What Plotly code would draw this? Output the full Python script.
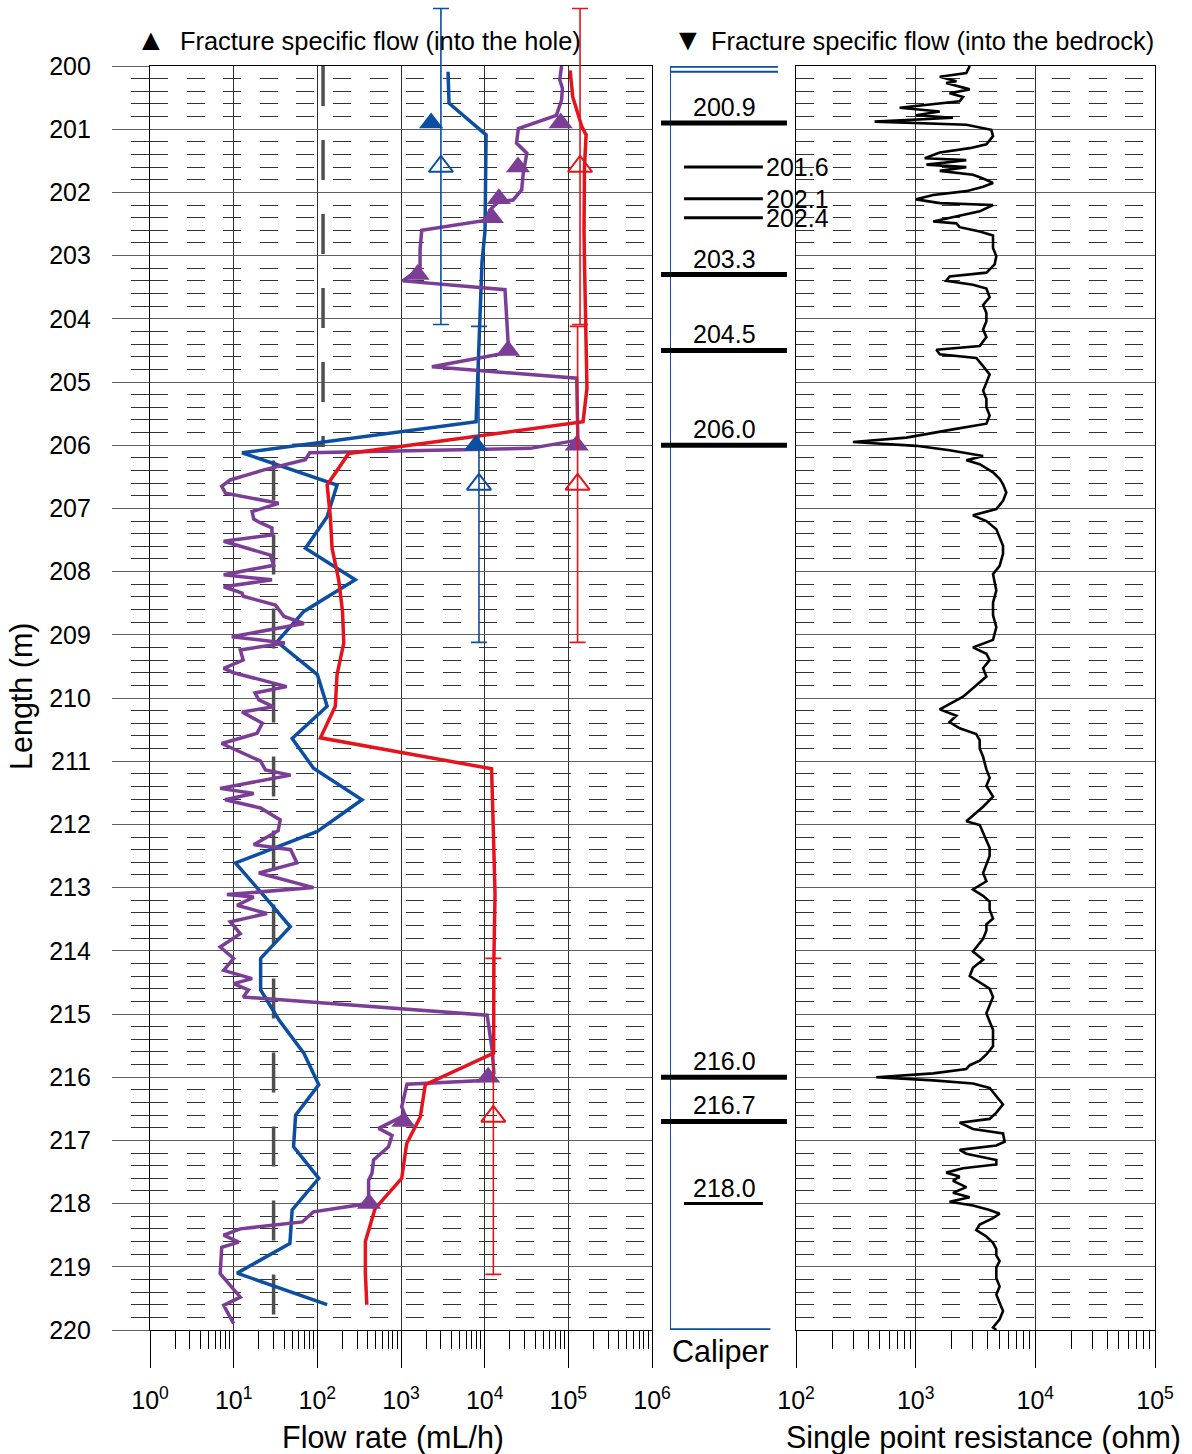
import plotly.graph_objects as go

# ---------------- data ----------------
# Blue flow log (mL/h) vs length (m)
blue_depth = [200.09, 200.59, 201.09, 201.59, 202.1, 202.6, 203.1, 203.6, 204.1, 204.6, 205.1, 205.63,
              206.12, 206.63, 207.13, 207.63, 208.13, 208.63, 209.11, 209.63, 210.13, 210.64, 211.11,
              211.61, 212.11, 212.61, 213.1, 213.62, 214.12, 214.62, 215.1, 215.62, 216.12, 216.6,
              217.1, 217.6, 218.1, 218.63, 219.1, 219.6]
blue_flow = [3650, 3750, 10400, 10300, 10200, 10100, 9300, 9000, 8600, 8300, 8100, 7900,
             12.6, 172, 131, 72, 284, 69, 33, 100, 131, 50, 90,
             342, 100, 10.5, 22, 47.5, 21, 21, 35, 69, 104, 55,
             52, 104, 50, 47, 11, 131]

# Red flow log
red_depth = [200.07, 200.49, 200.96, 201.09, 201.6, 202.12, 202.6, 203.1, 203.6, 204.1, 204.6, 205.1, 205.63,
             206.13, 206.63, 207.13, 207.63, 208.13, 208.63, 209.13, 209.63, 210.13, 210.63,
             211.12, 212.1, 213.1, 214.1, 215.1, 215.62, 216.12, 216.63, 217.05, 217.6, 218.08,
             218.6, 219.1, 219.6]
red_flow = [105000, 113000, 145000, 163000, 156000, 154000, 154000, 156000, 158000, 160000, 163000, 167000, 150000,
            237, 131, 143, 150, 180, 200, 207, 172, 164, 109,
            12100, 12700, 13300, 12900, 12800, 12800, 1950, 1700, 1170, 1020, 490,
            375, 375, 390]

# Purple flow log
purple_depth = [200.0, 200.22, 200.35, 200.54, 200.78, 200.99, 201.22, 201.38, 201.7, 201.96, 202.12, 202.15,
                202.28, 202.44, 202.6, 202.9, 203.2, 203.4, 203.54, 204.34, 204.53, 204.76, 204.94, 205.92,
                206.05, 206.12, 206.23, 206.39, 206.55, 206.65, 206.76, 206.92, 207.05, 207.17, 207.23,
                207.31, 207.42, 207.52, 207.74, 207.9, 208.05, 208.13, 208.24, 208.34, 208.39, 208.53,
                208.71, 208.82, 209.03, 209.13, 209.24, 209.4, 209.53, 209.6, 209.82, 209.92, 210.03,
                210.14, 210.22, 210.4, 210.56, 210.72, 211.0, 211.14, 211.22, 211.43, 211.51, 211.61,
                211.74, 211.93, 212.1, 212.32, 212.4, 212.61, 212.77, 213.0, 213.11, 213.15, 213.28,
                213.41, 213.54, 213.73, 213.94, 214.12, 214.31, 214.44, 214.52, 214.62, 214.73, 215.02,
                215.57, 215.94, 216.05, 216.11, 216.47, 216.6, 216.81, 216.92, 217.1, 217.31, 217.52,
                217.63, 217.92, 218.0, 218.13, 218.29, 218.4, 218.5, 218.61, 218.69, 219.11, 219.48,
                219.61, 219.9]
purple_flow = [83000, 79000, 85000, 83000, 72000, 25300, 24000, 31900, 28900, 27700, 21900, 14500,
               11500, 10500, 1770, 1690, 1690, 1050, 17500, 19000, 20000, 2340, 126000, 130000,
               35000, 81, 72, 23, 9.1, 7.2, 8, 34.5, 16.6, 17.4, 21,
               28.7, 28.7, 7.6, 27.5, 30, 7.6, 28.7, 7.6, 12.6, 13, 31.6,
               40, 69, 9.5, 41, 12, 13, 7.6, 10, 43, 18, 20,
               30, 12.6, 22, 19, 7.2, 21, 24, 48, 6.9, 17.4, 7.9,
               21, 36, 34, 17.4, 48, 57, 20, 90, 8.3, 17.4, 11,
               25, 9.1, 12, 6.9, 10, 7.6, 16.6, 10, 15, 13, 10700,
               12300, 12900, 11000, 1180, 1020, 1120, 540, 780, 710, 470, 450,
               410, 410, 400, 90, 66, 12, 7.6, 11.5, 7.2, 6.9, 12,
               7.6, 10]

# Measurement limit (gray dashed)
limit_depth = [200.0, 206.0, 206.0, 220.0]
limit_flow = [117, 117, 30, 30]

# Fracture specific flow (into the hole), filled triangles
frac_purple_depth = [200.9, 201.6, 202.1, 202.4, 203.3, 204.5, 206.0, 216.0, 216.7, 218.0]
frac_purple_flow = [81000, 25000, 14800, 12200, 1580, 19000, 126000, 11000, 1070, 415]
frac_blue_depth = [200.9, 206.0]
frac_blue_flow = [2290, 7870]

# Section flows with +/- 2.5 m section length (open triangles)
sec_blue_depth = [201.59, 206.62]
sec_blue_flow = [3000, 8550]
sec_red_depth = [201.59, 206.62, 216.62]
sec_red_flow = [138000, 129000, 12700]
sec_half_len = 2.5

# Fracture depths shown in caliper column
frac_major = [200.9, 203.3, 204.5, 206.0, 216.0, 216.7]
frac_minor = [201.6, 202.1, 202.4, 218.0]
frac_labels_above = ["200.9", "203.3", "204.5", "206.0", "216.0", "216.7", "218.0"]
frac_labels_above_depth = [200.9, 203.3, 204.5, 206.0, 216.0, 216.7, 218.0]
frac_labels_side = ["201.6", "202.1", "202.4"]
frac_labels_side_depth = [201.6, 202.1, 202.4]

# Caliper (mm)
caliper_depth = [200.01, 200.01, 219.99, 219.99, None, 200.09, 200.09]
caliper_mm = [86, 76, 76, 85.3, None, 76, 86]

# Single point resistance (ohm)
spr_depth = [200.0, 200.11, 200.17, 200.24, 200.27, 200.37, 200.43, 200.49, 200.56, 200.66, 200.72, 200.78,
             200.82, 200.88, 200.93, 201.01, 201.11, 201.24, 201.30, 201.37, 201.46, 201.49, 201.56,
             201.60, 201.66, 201.72, 201.78, 201.85, 201.91, 201.98, 202.04, 202.11, 202.17, 202.20,
             202.30, 202.40, 202.46, 202.49, 202.55, 202.62, 202.68, 202.88, 203.01, 203.14, 203.27,
             203.33, 203.40, 203.46, 203.52, 203.66, 203.78, 203.91, 204.04, 204.17, 204.29, 204.43,
             204.49, 204.56, 204.62, 204.75, 204.88, 205.01, 205.14, 205.27, 205.40, 205.53, 205.66,
             205.75, 205.82, 205.88, 205.95, 206.01, 206.08, 206.14, 206.17, 206.24, 206.30, 206.43,
             206.53, 206.62, 206.75, 206.88, 207.01, 207.11, 207.20, 207.33, 207.46, 207.59, 207.72,
             207.91, 208.04, 208.30, 208.49, 208.69, 208.88, 209.08, 209.20, 209.30, 209.40, 209.53,
             209.66, 209.85, 209.98,
             210.18, 210.28, 210.38, 210.48, 210.57, 210.67, 210.80, 210.93, 211.13, 211.26, 211.39,
             211.56, 211.72, 211.85, 211.95, 212.01, 212.14, 212.24, 212.37, 212.50, 212.64, 212.77,
             212.90, 213.03, 213.13, 213.22, 213.35, 213.49, 213.58, 213.68, 213.81, 213.94, 214.01,
             214.14, 214.27, 214.40, 214.50, 214.60, 214.73, 214.86, 214.99, 215.12, 215.25, 215.38,
             215.51, 215.64, 215.74, 215.81, 215.87, 215.94, 216.00, 216.05, 216.10, 216.17, 216.30,
             216.43, 216.56, 216.66, 216.72, 216.82, 216.89, 217.02, 217.08, 217.15, 217.21, 217.31,
             217.38, 217.44, 217.51, 217.57, 217.64, 217.74, 217.83, 217.90, 217.97, 218.03, 218.10,
             218.16, 218.23, 218.33, 218.42, 218.52, 218.62, 218.72, 218.82, 218.91, 219.01, 219.18,
             219.31, 219.44, 219.57, 219.70, 219.83, 219.96, 220.0]
spr_ohm = [2830, 2650, 1590, 2190, 1800, 2830, 1920, 2490, 2330, 735, 1590, 1010,
           2050, 454, 2650, 4290, 4430, 3900, 2830, 1590, 1190, 2650, 1230,
           2650, 1590, 3010, 3660, 4430, 3660, 2650, 1400, 1010, 1590, 4430,
           3430, 1920, 1400, 2190, 2330, 3430, 4430, 4430, 4720, 4570, 3900,
           1920, 1800, 3010, 3900, 4150, 3660, 3900, 3900, 3660, 3900, 3430,
           1490, 1590, 3210, 3660, 4150, 3900, 3660, 3900, 3900, 4150, 3900,
           2050, 1230, 836, 299, 1010, 1920, 3010, 3660, 2650, 3430, 4430,
           5030, 5370, 5720, 5370, 4720, 3010, 3900, 4720, 5030, 5370, 5370,
           5030, 4430, 4720, 4430, 4430, 4720, 4430, 3010, 3900, 4150, 3660,
           3900, 3010, 2490,
           1590, 2190, 1920, 2330, 3210, 3430, 3430, 3660, 3900, 4150, 3900,
           4430, 3660, 3010, 2650, 3430, 3660, 3900, 4150, 4150, 3900, 3660,
           3900, 3010, 3660, 4150, 4150, 4430, 3900, 3900, 3660, 3210, 3010,
           3660, 3010, 2830, 3430, 4150, 4430, 4150, 3900, 4150, 4430, 4430,
           4430, 3900, 3430, 2830, 2650, 1400, 469, 1400, 3010, 4150, 4720,
           5370, 4720, 4150, 2330, 3010, 5370, 5540, 4720, 2330, 2650, 4720,
           4720, 2490, 1800, 2330, 2050, 2650, 2050, 2830, 1920, 3010, 4150,
           5030, 4430, 3430, 3210, 3900, 4430, 4720, 4720, 5030, 4720, 4720,
           5030, 4720, 5030, 5370, 5030, 4430, 4720]

flow_tickvals = [1, 10, 100, 1000, 10000, 100000, 1000000]
flow_ticktext = ["10<sup>0</sup>", "10<sup>1</sup>", "10<sup>2</sup>", "10<sup>3</sup>",
                 "10<sup>4</sup>", "10<sup>5</sup>", "10<sup>6</sup>"]
spr_tickvals = [100, 1000, 10000, 100000]
spr_ticktext = ["10<sup>2</sup>", "10<sup>3</sup>", "10<sup>4</sup>", "10<sup>5</sup>"]

# ---------------- layout constants ----------------
W, H = 1192, 1454
def fx(p): return p / W
def fy(p): return 1 - p / H

FONT = "Liberation Sans, Arial, sans-serif"
BLUE = "#0B4EA2"
RED = "#E5131B"
PURPLE = "#7B3D96"
GRAY = "#505050"

TOP_PX, BOT_PX = 66, 1330
Y_DOM = [fy(BOT_PX), fy(TOP_PX)]
# extended overlay axis (same depth scale) reaching the top of the figure, so
# section error bars may run above the frame as in the original
PX_PER_M = (BOT_PX - TOP_PX) / 20.0
Y_EXT_TOP = 200 - TOP_PX / PX_PER_M

fig = go.Figure()

fig.add_trace(go.Scatter(x=limit_flow, y=limit_depth, mode="lines", xaxis="x", yaxis="y",
                         line=dict(color=GRAY, width=3.5, dash="40px,34px"), showlegend=False))
fig.add_trace(go.Scatter(x=blue_flow, y=blue_depth, mode="lines", xaxis="x", yaxis="y",
                         line=dict(color=BLUE, width=3.5), showlegend=False))
fig.add_trace(go.Scatter(x=purple_flow, y=purple_depth, mode="lines", xaxis="x", yaxis="y",
                         line=dict(color=PURPLE, width=3.5), showlegend=False))
fig.add_trace(go.Scatter(x=red_flow, y=red_depth, mode="lines", xaxis="x", yaxis="y",
                         line=dict(color=RED, width=3.5), showlegend=False))

fig.add_trace(go.Scatter(x=sec_blue_flow, y=sec_blue_depth, mode="markers", xaxis="x4", yaxis="y4",
                         marker=dict(symbol="triangle-up-open", size=21, color=BLUE, line=dict(width=2, color=BLUE)),
                         error_y=dict(type="constant", value=sec_half_len, thickness=1.6, width=8, color=BLUE),
                         cliponaxis=False, showlegend=False))
fig.add_trace(go.Scatter(x=sec_red_flow, y=sec_red_depth, mode="markers", xaxis="x4", yaxis="y4",
                         marker=dict(symbol="triangle-up-open", size=21, color=RED, line=dict(width=2, color=RED)),
                         error_y=dict(type="constant", value=sec_half_len, thickness=1.6, width=8, color=RED),
                         cliponaxis=False, showlegend=False))

fig.add_trace(go.Scatter(x=frac_purple_flow, y=frac_purple_depth, mode="markers", xaxis="x", yaxis="y",
                         marker=dict(symbol="triangle-up", size=21, color=PURPLE), cliponaxis=False,
                         showlegend=False))
fig.add_trace(go.Scatter(x=frac_blue_flow, y=frac_blue_depth, mode="markers", xaxis="x", yaxis="y",
                         marker=dict(symbol="triangle-up", size=21, color=BLUE), cliponaxis=False,
                         showlegend=False))

fig.add_trace(go.Scatter(x=caliper_mm, y=caliper_depth, mode="lines", xaxis="x3", yaxis="y3",
                         line=dict(color=BLUE, width=2), connectgaps=False, showlegend=False))

fig.add_trace(go.Scatter(x=spr_ohm, y=spr_depth, mode="lines", xaxis="x2", yaxis="y2",
                         line=dict(color="black", width=2.6), showlegend=False))

shapes = []
for d in frac_major:
    shapes.append(dict(type="line", xref="x3 domain", yref="y", x0=-0.083, x1=1.083, y0=d, y1=d,
                       line=dict(color="black", width=5), layer="above"))
for d in frac_minor:
    shapes.append(dict(type="line", xref="x3 domain", yref="y", x0=0.13, x1=0.86, y0=d, y1=d,
                       line=dict(color="black", width=3), layer="above"))

annotations = []
for t, d in zip(frac_labels_above, frac_labels_above_depth):
    annotations.append(dict(text=t, xref="x3 domain", yref="y", x=0.5, y=d, xanchor="center",
                            yanchor="bottom", yshift=0, showarrow=False,
                            font=dict(size=25, color="black", family=FONT)))
for t, d in zip(frac_labels_side, frac_labels_side_depth):
    annotations.append(dict(text=t, xref="x3 domain", yref="y", x=0.87, y=d, xanchor="left",
                            yanchor="middle", showarrow=False,
                            font=dict(size=25, color="black", family=FONT)))

def ann(text, x, y, size=25, xanchor="center", yanchor="middle", angle=0):
    annotations.append(dict(text=text, xref="paper", yref="paper", x=fx(x), y=fy(y),
                            xanchor=xanchor, yanchor=yanchor, textangle=angle, showarrow=False,
                            font=dict(size=size, color="black", family=FONT)))

ann("▲", 151, 40, size=30)
ann("Fracture specific flow (into the hole)", 178, 41, size=25.4, xanchor="left")
ann("▼", 688, 40, size=30)
ann("Fracture specific flow (into the bedrock)", 709, 41, size=25.4, xanchor="left")
ann("Length (m)", 22, 697, size=30.5, angle=-90)
ann("Flow rate (mL/h)", 393, 1437, size=30.5)
ann("Single point resistance (ohm)", 983, 1437, size=30.5)
ann("Caliper", 720, 1351, size=30.5)

common_y = dict(range=[220, 200], domain=Y_DOM, showline=True, mirror=True, linecolor="black",
                linewidth=1.3, showgrid=True, gridcolor="#606060", gridwidth=1.3, dtick=1, tick0=200,
                zeroline=False, automargin=False)

fig.update_layout(
    template="none",
    width=W, height=H, margin=dict(l=0, r=0, t=0, b=0, pad=0, autoexpand=False),
    paper_bgcolor="white", plot_bgcolor="rgba(0,0,0,0)",
    font=dict(family=FONT, size=25, color="black"),
    showlegend=False,
    xaxis=dict(type="log", range=[0, 6], domain=[fx(150), fx(652)], anchor="y", automargin=False,
               showline=True, mirror=True, linecolor="black", linewidth=1.3,
               showgrid=True, gridcolor="#303030", gridwidth=1.3,
               tickmode="array", tickvals=flow_tickvals, ticktext=flow_ticktext,
               ticks="outside", ticklen=37, tickwidth=1.3, tickcolor="black",
               tickfont=dict(size=25), ticklabelstandoff=11,
               minor=dict(ticks="outside", ticklen=18, tickwidth=1.2, tickcolor="black",
                          dtick="D1", showgrid=False),
               zeroline=False),
    yaxis=dict(**common_y, anchor="x", ticks="outside", ticklen=37, tickwidth=1.3, tickcolor="#606060",
               tickfont=dict(size=25), ticklabelstandoff=16,
               minor=dict(dtick=0.2, tick0=200, ticks="outside", ticklen=18, tickwidth=1,
                          tickcolor="#333333", showgrid=True, gridcolor="#333333", gridwidth=1,
                          griddash="18px,18.6px")),
    xaxis2=dict(type="log", range=[2, 5], domain=[fx(796), fx(1155)], anchor="y2", automargin=False,
                showline=True, mirror=True, linecolor="black", linewidth=1.3,
                showgrid=True, gridcolor="#303030", gridwidth=1.3,
                tickmode="array", tickvals=spr_tickvals, ticktext=spr_ticktext,
                ticks="outside", ticklen=37, tickwidth=1.3, tickcolor="black",
                tickfont=dict(size=25), ticklabelstandoff=11,
                minor=dict(ticks="outside", ticklen=18, tickwidth=1.2, tickcolor="black",
                           dtick="D1", showgrid=False),
                zeroline=False),
    yaxis2=dict(**common_y, anchor="x2", matches="y", showticklabels=False, ticks="",
                minor=dict(dtick=0.2, tick0=200, ticks="", showgrid=True, gridcolor="#333333",
                           gridwidth=1, griddash="18px,18.6px")),
    xaxis3=dict(range=[76, 86], domain=[fx(670), fx(778)], anchor="y3", visible=False),
    yaxis3=dict(range=[220, 200], domain=Y_DOM, anchor="x3", matches="y", visible=False),
    xaxis4=dict(type="log", range=[0, 6], domain=[fx(150), fx(652)], anchor="y4", visible=False),
    yaxis4=dict(range=[220, Y_EXT_TOP], domain=[fy(BOT_PX), 1.0], anchor="x4", visible=False),
    shapes=shapes,
    annotations=annotations,
)

fig.write_html("out.html", config={"displayModeBar": False},
               post_script="document.body.style.margin='0';")
